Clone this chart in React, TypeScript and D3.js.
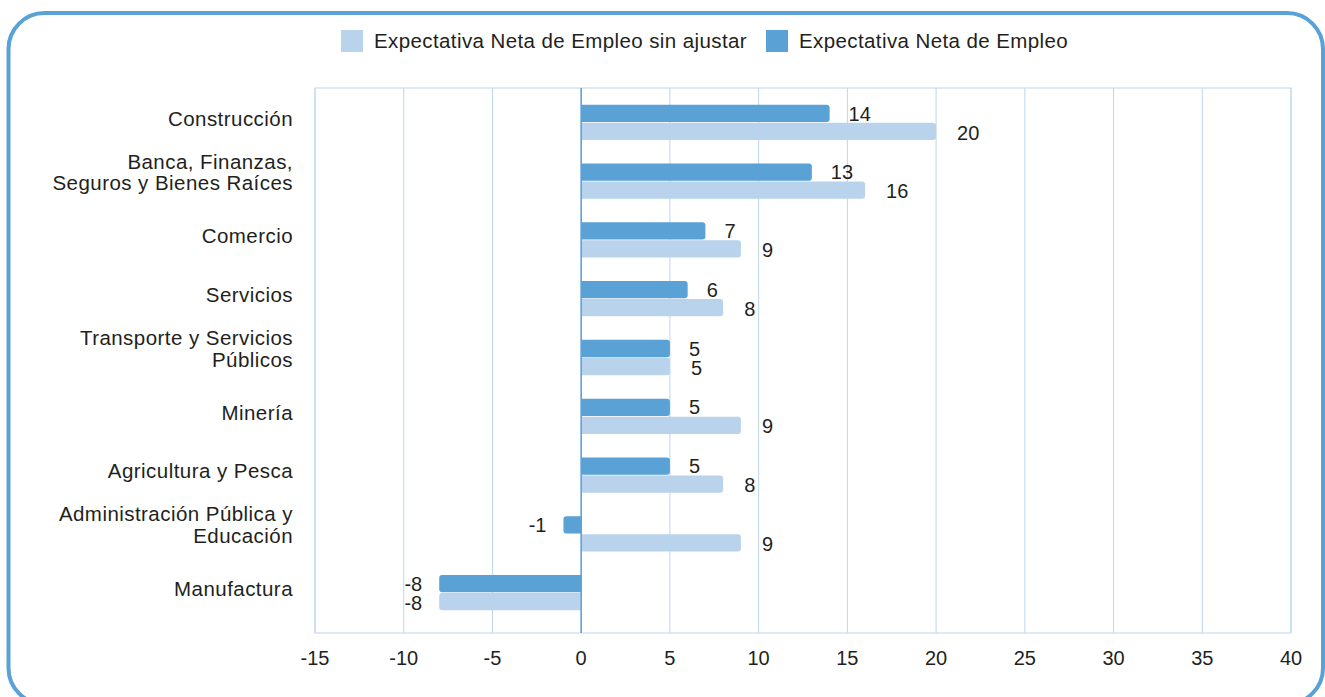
import { scaleBand, scaleLinear, range } from "d3";

const categories = [
  "Construcción",
  "Banca, Finanzas,\nSeguros y Bienes Raíces",
  "Comercio",
  "Servicios",
  "Transporte y Servicios\nPúblicos",
  "Minería",
  "Agricultura y Pesca",
  "Administración Pública y\nEducación",
  "Manufactura",
];
const adjusted = [14, 13, 7, 6, 5, 5, 5, -1, -8];
const unadjusted = [20, 16, 9, 8, 5, 9, 8, 9, -8];
const seriesNames = ["Expectativa Neta de Empleo sin ajustar", "Expectativa Neta de Empleo"];
const xTicks = range(-15, 41, 5);

const W = 1325;
const H = 697;
const plot = { left: 315, right: 1291, top: 88, bottom: 633 };
const dark = "#5aa1d6";
const light = "#b9d3ec";
const grid = "#bcd6ee";
const ink = "#231f20";
const font = "'Liberation Sans', Arial, Helvetica, sans-serif";

// bar path with rounded corners only at the far end
const barPath = (x0: number, x1: number, y: number, h: number, r: number) => {
  const dir = x1 >= x0 ? 1 : -1;
  const len = Math.abs(x1 - x0);
  const rr = Math.min(r, len / 2, h / 2);
  const e = x1;
  return [
    `M${x0},${y}`,
    `L${e - dir * rr},${y}`,
    `Q${e},${y} ${e},${y + rr}`,
    `L${e},${y + h - rr}`,
    `Q${e},${y + h} ${e - dir * rr},${y + h}`,
    `L${x0},${y + h}`,
    "Z",
  ].join(" ");
};

export default function App() {
  const x = scaleLinear().domain([-15, 40]).range([plot.left, plot.right]);
  const y = scaleBand<string>()
    .domain(categories)
    .range([93, 622])
    .paddingInner(0.4)
    .paddingOuter(0.2);
  const sub = scaleBand<string>()
    .domain(["adj", "unadj"])
    .range([0, y.bandwidth()])
    .paddingInner(0.04);

  const rows = categories.map((c, i) => ({
    cat: c,
    lines: c.split("\n"),
    adj: adjusted[i],
    unadj: unadjusted[i],
  }));

  return (
    <div style={{ position: "fixed", left: 0, top: 0 }}>
      <svg width={W} height={H} style={{ display: "block", fontFamily: font }}>
        <rect width={W} height={H} fill="#fff" />
        <rect
          x={8.5}
          y={13}
          width={1314.5}
          height={691}
          rx={36}
          fill="none"
          stroke={dark}
          strokeWidth={4}
        />

        {/* legend */}
        <g>
          <rect x={341} y={30} width={22} height={22} fill={light} />
          <text x={374} y={48} fontSize={20.5} fill={ink} letterSpacing={0.4}>
            {seriesNames[0]}
          </text>
          <rect x={766} y={30} width={22} height={22} fill={dark} />
          <text x={799} y={48} fontSize={20.5} fill={ink} letterSpacing={0.4}>
            {seriesNames[1]}
          </text>
        </g>

        {/* grid */}
        {xTicks.map((t) => (
          <line
            key={t}
            x1={x(t)}
            x2={x(t)}
            y1={plot.top}
            y2={plot.bottom}
            stroke={grid}
            strokeWidth={1}
          />
        ))}
        <rect
          x={plot.left}
          y={plot.top}
          width={plot.right - plot.left}
          height={plot.bottom - plot.top}
          fill="none"
          stroke={grid}
          strokeWidth={1}
        />

        {/* bars */}
        {rows.map((d) => {
          const y0 = y(d.cat) as number;
          const yA = y0 + (sub("adj") as number);
          const yU = y0 + (sub("unadj") as number);
          const bh = sub.bandwidth();
          const mid = y0 + y.bandwidth() / 2;
          const n = d.lines.length;
          const labMid = n > 1 ? mid - 9 : mid - 4;
          const lab = (v: number, yy: number, off: number) => (
            <text
              x={v >= 0 ? x(v) + off : x(v) - 17}
              y={yy + bh / 2}
              dy="0.36em"
              textAnchor={v >= 0 ? "start" : "end"}
              fontSize={20}
              fill={ink}
            >
              {v}
            </text>
          );
          return (
            <g key={d.cat}>
              <path d={barPath(x(0), x(d.adj), yA, bh, 3)} fill={dark} />
              <path d={barPath(x(0), x(d.unadj), yU, bh, 3)} fill={light} />
              {lab(d.adj, yA, 19)}
              {lab(d.unadj, yU + 1, 21)}
              <text
                x={293}
                textAnchor="end"
                fontSize={20.5}
                fill={ink}
                letterSpacing={0.45}
              >
                {d.lines.map((l, k) => (
                  <tspan
                    key={k}
                    x={293}
                    y={labMid + (k - (n - 1) / 2) * 21.5}
                    dy="0.36em"
                  >
                    {l}
                  </tspan>
                ))}
              </text>
            </g>
          );
        })}

        {/* zero line */}
        <line
          x1={x(0)}
          x2={x(0)}
          y1={plot.top}
          y2={plot.bottom}
          stroke={dark}
          strokeWidth={1.5}
        />

        {/* x axis labels */}
        {xTicks.map((t) => (
          <text
            key={t}
            x={x(t)}
            y={658}
            dy="0.36em"
            textAnchor="middle"
            fontSize={20}
            fill={ink}
          >
            {t}
          </text>
        ))}
      </svg>
    </div>
  );
}
